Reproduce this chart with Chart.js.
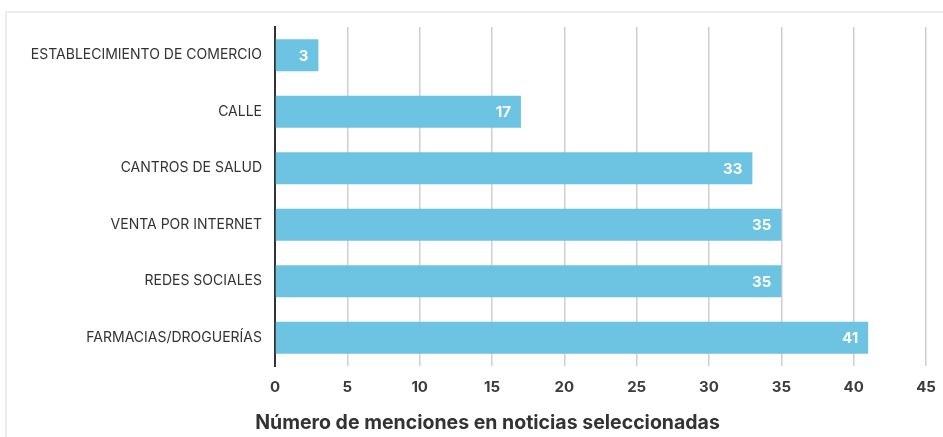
<!DOCTYPE html>
<html>
<head>
<meta charset="utf-8">
<script src="https://cdn.jsdelivr.net/npm/chart.js@4.4.1/dist/chart.umd.min.js"></script>
<style>
    html, body {
        margin: 0;
        padding: 0;
        background: #ffffff;
        overflow: hidden;
    }
    #frame {
        position: absolute;
        left: 5px;
        top: 11px;
        width: 960px;
        height: 440px;
        border-top: 2px solid #ececec;
        border-left: 2px solid #ececec;
    }
    #wrap {
        position: absolute;
        left: 0;
        top: 0;
        width: 943px;
        height: 437px;
    }
</style>
</head>
<body>
<div id="frame"></div>
<div id="wrap"><canvas id="chart"></canvas></div>
<script>
const categories = [
    "ESTABLECIMIENTO DE COMERCIO",
    "CALLE",
    "CANTROS DE SALUD",
    "VENTA POR INTERNET",
    "REDES SOCIALES",
    "FARMACIAS/DROGUERÍAS",
];
const mentions = [3, 17, 33, 35, 35, 41];
const axisTitle = "Número de menciones en noticias seleccionadas";

const FONT = "Inter, 'Liberation Sans', sans-serif";

// white value labels drawn inside the end of each bar
const barValues = {
    id: "barValues",
    afterDatasetsDraw(chart) {
        const ctx = chart.ctx;
        const meta = chart.getDatasetMeta(0);
        ctx.save();
        ctx.fillStyle = "#ffffff";
        ctx.font = "bold 15px " + FONT;
        ctx.textAlign = "right";
        ctx.textBaseline = "middle";
        meta.data.forEach((bar, i) => {
            ctx.fillText(String(mentions[i]), bar.x - 10, bar.y + 1);
        });
        ctx.restore();
    },
};

// axis caption under the tick labels
const bottomTitle = {
    id: "bottomTitle",
    afterDraw(chart) {
        const ctx = chart.ctx;
        ctx.save();
        ctx.fillStyle = "#333333";
        ctx.font = "bold 19.5px " + FONT;
        ctx.textAlign = "center";
        ctx.textBaseline = "middle";
        ctx.fillText(axisTitle, chart.width / 2 + 16, 423);
        ctx.restore();
    },
};

const getConfig = () => {
    return {
        type: "bar",
        data: {
            labels: categories,
            datasets: [
                {
                    data: mentions,
                    backgroundColor: "#6cc4e2",
                    borderWidth: 0,
                    categoryPercentage: 1,
                    barPercentage: 0.57,
                },
            ],
        },
        options: {
            indexAxis: "y",
            responsive: true,
            maintainAspectRatio: false,
            animation: false,
            layout: {
                padding: { top: 27, right: 17, left: 0, bottom: 0 },
            },
            plugins: {
                legend: { display: false },
                tooltip: { enabled: false },
            },
            scales: {
                x: {
                    min: 0,
                    max: 45,
                    ticks: {
                        stepSize: 5,
                        color: "#3c3c3c",
                        padding: 12,
                        font: { family: FONT, size: 15, weight: "bold" },
                    },
                    grid: {
                        color: "#cfcfcf",
                        lineWidth: 1.5,
                        drawTicks: false,
                    },
                    border: { display: false },
                    afterFit: (scale) => {
                        scale.height = 71;
                        scale.paddingLeft = 0;
                        scale.paddingRight = 0;
                    },
                },
                y: {
                    ticks: {
                        color: "#333333",
                        padding: 13,
                        font: { family: FONT, size: 14 },
                    },
                    grid: { display: false, drawTicks: false },
                    border: { display: true, color: "#333333", width: 2 },
                    afterFit: (scale) => {
                        scale.width = 275;
                    },
                },
            },
        },
        plugins: [barValues, bottomTitle],
    };
};

const createChart = () => {
    const ctx = document.getElementById("chart").getContext("2d");
    new Chart(ctx, getConfig());
};

createChart();
</script>
</body>
</html>
